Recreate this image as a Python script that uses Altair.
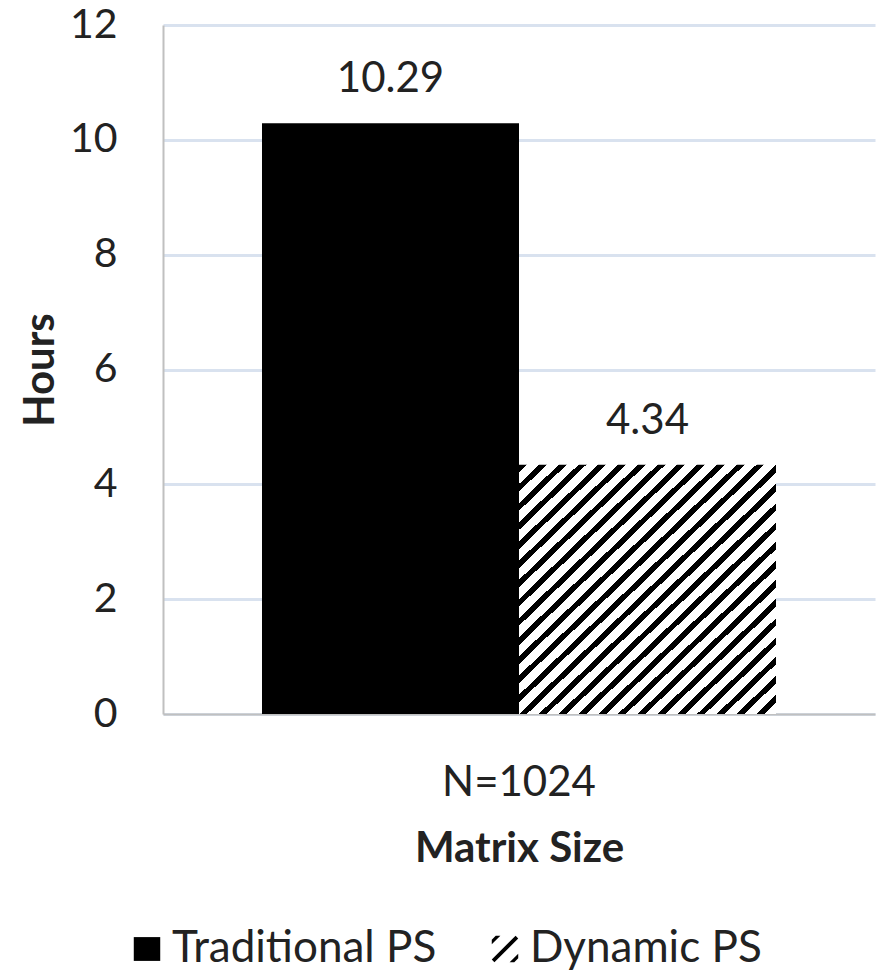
import altair as alt
import pandas as pd

# Chart values
sizes = ["N=1024", "N=1024"]
series = ["Traditional PS", "Dynamic PS"]
hours = [10.29, 4.34]

df = pd.DataFrame({"size": sizes, "series": series, "hours": hours})

FONT = "Lato"
TEXT = "#222222"

# Diagonal "/" hatching for the second bar, built as a hard-stop linear gradient
periods = 26
dark = 0.4
stops = []
for k in range(periods):
    a = k / periods
    b = (k + dark) / periods
    c = (k + 1) / periods
    stops += [
        alt.GradientStop(offset=a, color="black"),
        alt.GradientStop(offset=b, color="black"),
        alt.GradientStop(offset=b, color="white"),
        alt.GradientStop(offset=c, color="white"),
    ]
hatch = alt.LinearGradient(gradient="linear", stops=stops, x1=0, y1=0, x2=1, y2=1)

# Legend symbols: solid block and a small hatched square
solid_path = "M-1,-0.9H1V0.9H-1Z"
hatch_path = (
    "M-1,0.8L0.8,-1L1,-0.8L-0.8,1Z"
    "M-1,-0.7L-0.7,-1L-0.35,-1L-1,-0.35Z"
    "M1,0.7L0.7,1L0.35,1L1,0.35Z"
)

x_enc = alt.X(
    "size:N",
    scale=alt.Scale(paddingInner=0, paddingOuter=0.1926),
    axis=alt.Axis(
        title="Matrix Size",
        labelAngle=0,
        labelFont=FONT,
        labelFontSize=42,
        labelColor=TEXT,
        labelPadding=48,
        ticks=False,
        tickSize=0,
        domainColor="#c0c0c0",
        domainWidth=2,
        titleFont=FONT,
        titleFontSize=42,
        titleFontWeight="bold",
        titleColor=TEXT,
        titlePadding=25,
    ),
)
xoff_enc = alt.XOffset("series:N", scale=alt.Scale(domain=series), sort=series)
y_enc = alt.Y(
    "hours:Q",
    scale=alt.Scale(domain=[0, 12], nice=False),
    axis=alt.Axis(
        title="Hours",
        values=[0, 2, 4, 6, 8, 10, 12],
        labelFont=FONT,
        labelFontSize=41,
        labelColor=TEXT,
        labelPadding=46,
        ticks=False,
        tickSize=0,
        grid=True,
        gridColor="#d9e2ef",
        gridWidth=3,
        domainColor="#c0c0c0",
        domainWidth=2,
        titleFont=FONT,
        titleFontSize=42,
        titleFontWeight="bold",
        titleColor=TEXT,
        titlePadding=7,
    ),
)

base = alt.Chart(df).encode(x=x_enc, xOffset=xoff_enc, y=y_enc)

# Hidden points (covered by the bars) that carry the legend
legend_pts = base.mark_point(
    filled=True, color="black", opacity=1, size=700, strokeWidth=0, yOffset=40
).encode(
    shape=alt.Shape(
        "series:N",
        scale=alt.Scale(domain=series, range=[solid_path, hatch_path]),
        legend=alt.Legend(
            title=None,
            orient="none",
            legendX=-38,
            legendY=902,
            direction="horizontal",
            labelFont=FONT,
            labelFontSize=44,
            labelColor=TEXT,
            labelLimit=500,
            symbolSize=700,
            symbolStrokeWidth=0,
            symbolFillColor="black",
            symbolOpacity=1,
            columnPadding=46,
            labelOffset=3,
            padding=0,
        ),
    )
)

solid_bar = base.mark_bar(fill="black", stroke=None).transform_filter(
    alt.datum.series == series[0]
)
hatched_bar = base.mark_bar(fill=hatch, stroke=None).transform_filter(
    alt.datum.series == series[1]
)

labels = base.mark_text(
    baseline="bottom", dy=-22, font=FONT, fontSize=42, color=TEXT
).encode(text=alt.Text("hours:Q", format=".2f"))

chart = (
    alt.layer(legend_pts, solid_bar, hatched_bar, labels)
    .properties(
        width=712,
        height=689,
        autosize=alt.AutoSizeParams(type="none"),
        padding={"left": 163, "top": 25, "right": 6, "bottom": 261},
        background="white",
    )
    .configure_view(stroke=None)
)

chart.save("out.html", embed_options={"renderer": "svg", "actions": False})
